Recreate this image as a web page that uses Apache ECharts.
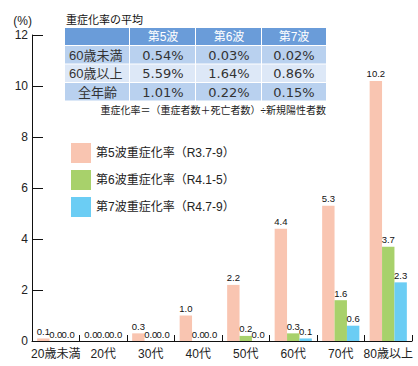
<!DOCTYPE html>
<html><head><meta charset="utf-8">
<script src="https://cdn.jsdelivr.net/npm/echarts@6/dist/echarts.min.js"></script>
<style>html,body{margin:0;padding:0;background:#fff}#c{width:418px;height:366px}</style>
</head><body><div id="c"></div>
<script>
var categories = ['20歳未満','20代','30代','40代','50代','60代','70代','80歳以上'];
var wave5 = [0.1, 0.0, 0.3, 1.0, 2.2, 4.4, 5.3, 10.2];
var wave6 = [0.0, 0.0, 0.0, 0.0, 0.2, 0.3, 1.6, 3.7];
var wave7 = [0.0, 0.0, 0.0, 0.0, 0.0, 0.1, 0.6, 2.3];
var seriesNames = ['第5波重症化率（R3.7-9）','第6波重症化率（R4.1-5）','第7波重症化率（R4.7-9）'];
var tableTitle = '重症化率の平均';
var tableHeader = ['', '第5波', '第6波', '第7波'];
var rowLabels = ['60歳未満', '60歳以上', '全年齢'];
var tableValues = [
  ['0.54%', '0.03%', '0.02%'],
  ['5.59%', '1.64%', '0.86%'],
  ['1.01%', '0.22%', '0.15%']
];
var formulaNote = '重症化率＝（重症者数＋死亡者数）÷新規陽性者数';
var unitLabel = '(%)';

var colors = ['#F9C5B1', '#A8D16B', '#6BCDF4'];
var CJK = '"Liberation Sans", Arial, "Noto Sans CJK JP", sans-serif';
var NUM = '"DejaVu Sans", "Noto Sans CJK JP", sans-serif';
var NARROW = '"Liberation Sans Narrow", "Liberation Sans", Arial, sans-serif';

// table graphic
var g = [];
var tx = 65, colW = [65, 66, 66, 64], hdrY = 28, hdrH = 17, rowY0 = 46, rowH = 17.5, rowPitch = 18.5;
var colX = [tx]; for (var i = 0; i < colW.length; i++) colX.push(colX[i] + colW[i]);
g.push({type:'text', left: 66, top: 14, style:{text: tableTitle, font: '11px ' + CJK, fill:'#111'}});
for (var c = 0; c < 4; c++) {
  g.push({type:'rect', shape:{x: colX[c], y: hdrY, width: colW[c] - (c < 3 ? 1 : 0), height: hdrH}, style:{fill:'#6A9CD9'}});
  if (tableHeader[c]) g.push({type:'text', x: colX[c] + colW[c]/2, y: hdrY + hdrH/2, style:{text: tableHeader[c], font:'12px ' + CJK, fill:'#fff', textAlign:'center', textVerticalAlign:'middle'}});
}
var rowFills = ['#B9D1EF', '#DDE8F7', '#B9D1EF'];
for (var r = 0; r < rowLabels.length; r++) {
  var y = rowY0 + r * rowPitch;
  for (var c2 = 0; c2 < 4; c2++) {
    g.push({type:'rect', shape:{x: colX[c2], y: y, width: colW[c2] - (c2 < 3 ? 1 : 0), height: rowH}, style:{fill: rowFills[r]}});
  }
  var isLast = r === rowLabels.length - 1;
  g.push({type:'text', x: isLast ? colX[0] + colW[0]/2 : colX[0] + 4, y: y + rowH/2 + 0.5,
    style:{text: rowLabels[r], font:'13px ' + CJK, fill:'#333', textAlign: isLast ? 'center' : 'left', textVerticalAlign:'middle'}});
  for (var k = 0; k < 3; k++) {
    g.push({type:'text', x: colX[k+1] + colW[k+1]/2, y: y + rowH/2 + 0.5,
      style:{text: tableValues[r][k], font:'13px ' + NUM, fill:'#333', textAlign:'center', textVerticalAlign:'middle'}});
  }
}
g.push({type:'text', x: 326, y: 110, style:{text: formulaNote, font:'10px ' + CJK, fill:'#222', textAlign:'right', textVerticalAlign:'middle'}});
g.push({type:'text', x: 32, y: 21, style:{text: unitLabel, font:'12px ' + CJK, fill:'#222', textAlign:'right', textVerticalAlign:'middle'}});

function mk(name, data, color) {
  return {
    name: name, type: 'bar', data: data, barWidth: 12.4, barGap: '0%',
    itemStyle: {color: color}, silent: true, animation: false,
    label: {show: true, position: 'top', distance: 2, color: '#111',
      fontFamily: NARROW, fontSize: 9.5,
      formatter: function (p) { return p.value.toFixed(1); }}
  };
}

var chart = echarts.init(document.getElementById('c'), null, {renderer: 'svg'});
chart.setOption({
  animation: false,
  color: colors,
  grid: {left: 32, right: 6, top: 35, bottom: 25, containLabel: false},
  legend: {
    orient: 'vertical', left: 66, top: 138, itemWidth: 20, itemHeight: 20, itemGap: 7,
    icon: 'rect', selectedMode: false,
    textStyle: {fontSize: 12, color: '#222', fontFamily: CJK},
    data: seriesNames
  },
  xAxis: {
    type: 'category', data: categories,
    axisLine: {lineStyle: {color: '#111', width: 1}},
    axisTick: {show: true, inside: true, length: 6, lineStyle: {color: '#111'}},
    axisLabel: {fontSize: 12, color: '#222', margin: 7, fontFamily: CJK, interval: 0}
  },
  yAxis: {
    type: 'value', min: 0, max: 12, interval: 2,
    axisLine: {show: true, lineStyle: {color: '#111', width: 1}},
    axisTick: {show: true, inside: true, length: 11, lineStyle: {color: '#111'}},
    splitLine: {show: false},
    axisLabel: {fontSize: 12, color: '#222', margin: 4, fontFamily: CJK}
  },
  graphic: g,
  series: [mk(seriesNames[0], wave5, colors[0]), mk(seriesNames[1], wave6, colors[1]), mk(seriesNames[2], wave7, colors[2])]
});
</script></body></html>
